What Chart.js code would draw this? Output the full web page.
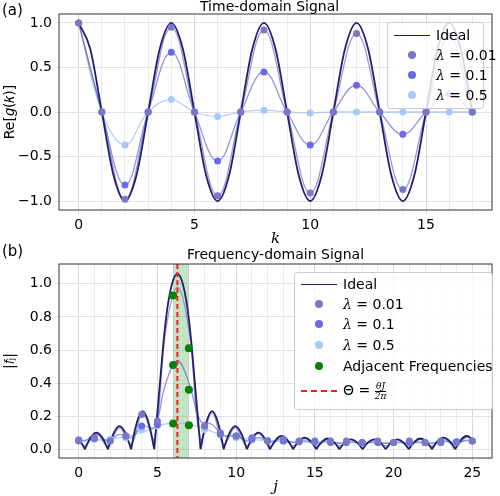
<!DOCTYPE html>
<html>
<head>
<meta charset="utf-8">
<script src="https://cdn.jsdelivr.net/npm/chart.js@4"></script>
<style>
  body { margin: 0; background: #fff; font-family: "DejaVu Sans", sans-serif; }
  #wrap { position: relative; width: 500px; height: 496px; }
  canvas { position: absolute; left: 0; }
  .lbl { position: absolute; font-size: 14px; color: #000; white-space: nowrap; }
  .legend { position: absolute; background: rgba(255,255,255,0.82); border: 1px solid #ccc; border-radius: 3px; font-size: 14px; }
  .row { position: absolute; left: 0; height: 18px; line-height: 18px; white-space: nowrap; }
  .sw { position: absolute; left: 6px; width: 36px; top: 9px; }
  .txt { position: absolute; left: 48px; top: 0; }
  .dot { position: absolute; left: 20px; top: 5px; width: 8px; height: 8px; border-radius: 50%; }
  i { font-family: "DejaVu Serif", serif; }
</style>
</head>
<body>
<div id="wrap">
  <canvas id="top" width="500" height="248" style="top:0"></canvas>
  <canvas id="bot" width="500" height="248" style="top:248px"></canvas>
  <div class="lbl" style="left:2px;top:1px;font-size:15px">(a)</div>
  <div class="lbl" style="left:200px;top:-2px">Time-domain Signal</div>
  <div class="lbl" style="left:2px;top:242px;font-size:15px">(b)</div>
  <div class="lbl" style="left:187px;top:246px">Frequency-domain Signal</div>

  <div class="legend" style="left:387px;top:22px;width:95px;height:85px">
    <div class="row" style="top:3px"><div class="sw" style="border-top:1.8px solid #1f1f70"></div><div class="txt">Ideal</div></div>
    <div class="row" style="top:23px"><div class="dot" style="background:#7878c4"></div><div class="txt"><i>λ</i> = 0.01</div></div>
    <div class="row" style="top:43px"><div class="dot" style="background:#6a6ae6"></div><div class="txt"><i>λ</i> = 0.1</div></div>
    <div class="row" style="top:63px"><div class="dot" style="background:#a8c8f8"></div><div class="txt"><i>λ</i> = 0.5</div></div>
  </div>

  <div class="legend" style="left:294px;top:272px;width:197px;height:136px">
    <div class="row" style="top:2px"><div class="sw" style="border-top:1.8px solid #1f1f70"></div><div class="txt">Ideal</div></div>
    <div class="row" style="top:22px"><div class="dot" style="background:#7878c4"></div><div class="txt"><i>λ</i> = 0.01</div></div>
    <div class="row" style="top:42px"><div class="dot" style="background:#6a6ae6"></div><div class="txt"><i>λ</i> = 0.1</div></div>
    <div class="row" style="top:63px"><div class="dot" style="background:#a8c8f8"></div><div class="txt"><i>λ</i> = 0.5</div></div>
    <div class="row" style="top:84px"><div class="dot" style="background:#0a800a"></div><div class="txt">Adjacent Frequencies</div></div>
    <div class="row" style="top:108px"><div class="sw" style="border-top:2px dashed #f02020"></div><div class="txt">Θ = <span style="display:inline-block;vertical-align:middle;font-size:9px;line-height:9px;text-align:center"><span style="border-bottom:1px solid #000;display:block"><i>θJ</i></span><span><i>2π</i></span></span></div></div>
  </div>
</div>
<script>
// ---- time domain data ----
const kVals = [0,1,2,3,4,5,6,7,8,9,10,11,12,13,14,15,16,17];
const idealK = [0,0.5,1,1.5,2,2.5,3,3.5,4,4.5,5,5.5,6,6.5,7,7.5,8,8.5,9,9.5,10,10.5,11,11.5,12,12.5,13,13.5,14,14.5,15,15.5,16,16.5,17];
const idealG = [1,0.707,0,-0.707,-1,-0.707,0,0.707,1,0.707,0,-0.707,-1,-0.707,0,0.707,1,0.707,0,-0.707,-1,-0.707,0,0.707,1,0.707,0,-0.707,-1,-0.707,0,0.707,1,0.707,0];
const g001 = [1,0,-0.98,0,0.95,0,-0.94,0,0.92,0,-0.91,0,0.88,0,-0.87,0,0.85,0];
const g01  = [1,0,-0.82,0,0.67,0,-0.55,0,0.45,0,-0.37,0,0.30,0,-0.25,0,0.20,0];
const g05  = [1,0,-0.37,0,0.14,0,-0.05,0,0.02,0,-0.01,0,0,0,0,0,0,0];

// ---- frequency domain data ----
const jVals = [0,1,2,3,4,5,6,7,8,9,10,11,12,13,14,15,16,17,18,19,20,21,22,23,24,25];
const f001 = [0.05,0.07,0.05,0.08,0.21,0.17,0.93,0.61,0.14,0.10,0.08,0.07,0.05,0.06,0.05,0.05,0.05,0.05,0.04,0.05,0.04,0.05,0.04,0.05,0.04,0.05];
const f01  = [0.055,0.065,0.05,0.08,0.14,0.15,0.51,0.36,0.14,0.09,0.08,0.06,0.05,0.05,0.045,0.045,0.04,0.04,0.04,0.04,0.04,0.04,0.04,0.04,0.045,0.05];
const f05  = [0.06,0.06,0.06,0.07,0.12,0.14,0.155,0.145,0.12,0.09,0.07,0.06,0.055,0.05,0.05,0.045,0.045,0.04,0.04,0.04,0.04,0.04,0.04,0.04,0.045,0.05];
const adjJ = [6,6,6,7,7,7];
const adjF = [0.93,0.51,0.155,0.61,0.36,0.145];
const thetaJ = 6.27;
const bandJ = [6, 7];

// ideal |f| curve, lobes separated by null so each zero is a cusp
const idealJ = [0,0.2,0.39,null,
  0.39,0.76,1.125,1.49,1.86,null, 1.86,2.23,2.595,2.96,3.33,null, 3.33,3.70,4.065,4.43,4.80,null,
  4.80,5.17,5.535,5.90,6.27,6.64,7.005,7.37,7.74,null,
  7.74,8.11,8.475,8.84,9.21,null, 9.21,9.58,9.945,10.31,10.68,null, 10.68,11.05,11.415,11.78,12.15,null,
  12.15,12.52,12.885,13.25,13.62,null, 13.62,13.99,14.355,14.72,15.09,null, 15.09,15.46,15.825,16.19,16.56,null,
  16.56,16.93,17.295,17.66,18.03,null, 18.03,18.40,18.765,19.13,19.50,null, 19.50,19.87,20.235,20.60,20.97,null,
  20.97,21.34,21.705,22.07,22.44,null, 22.44,22.81,23.175,23.54,23.91,null, 23.91,24.28,24.65,25];
const idealF = [0.06,0.035,0,null,
  0,0.071,0.10,0.071,0,null, 0,0.099,0.14,0.099,0,null, 0,0.163,0.23,0.163,0,null,
  0,0.41,0.78,0.99,1.06,0.99,0.78,0.41,0,null,
  0,0.163,0.23,0.163,0,null, 0,0.099,0.14,0.099,0,null, 0,0.071,0.10,0.071,0,null,
  0,0.057,0.08,0.057,0,null, 0,0.05,0.07,0.05,0,null, 0,0.046,0.065,0.046,0,null,
  0,0.043,0.06,0.043,0,null, 0,0.043,0.06,0.043,0,null, 0,0.043,0.06,0.043,0,null,
  0,0.046,0.065,0.046,0,null, 0,0.05,0.07,0.05,0,null, 0,0.057,0.08,0.058];

const curveJ = [0,0.39,1.125,1.86,2.595,3.33,4.065,4.80,5.535,6.27,7.005,7.74,8.475,9.21,9.945,10.68,11.415,12.15,12.885,13.62,14.355,15.09,15.825,16.56,17.295,18.03,18.765,19.50,20.235,20.97,21.705,22.44,23.175,23.91,24.65,25];
const c001 = [0.055,0.02,0.095,0.02,0.13,0.03,0.22,0.06,0.72,0.98,0.72,0.06,0.22,0.03,0.13,0.02,0.095,0.02,0.075,0.02,0.065,0.02,0.06,0.02,0.06,0.02,0.06,0.02,0.06,0.02,0.06,0.02,0.065,0.02,0.075,0.055];
const c01  = [0.055,0.05,0.09,0.05,0.09,0.07,0.14,0.13,0.40,0.535,0.40,0.17,0.15,0.08,0.085,0.05,0.07,0.045,0.06,0.04,0.05,0.035,0.05,0.035,0.045,0.035,0.045,0.035,0.045,0.035,0.045,0.035,0.05,0.035,0.055,0.05];
const smoothJ = [0,2,4,5,6.2,7.5,9,11,14,18,22,25];
const c05 = [0.055,0.06,0.10,0.14,0.16,0.14,0.09,0.06,0.045,0.04,0.04,0.05];

const cIdeal = '#1f1f70', c1 = '#7878c4', c2 = '#6a6ae6', c3 = '#a8c8f8';
const pts = (xs, ys) => xs.map((x, i) => ({ x: x, y: x === null ? null : ys[i] }));
const tickFont = { family: 'DejaVu Sans', size: 14 };
const gridColor = ctx => ctx.tick && ctx.tick.value % 5 === 0 ? '#d8d8d8' : '#ececec';

function lineDs(data, color, width, order, mono) {
  return { type: 'line', data: data, borderColor: color, borderWidth: width, pointRadius: 0, tension: 0.4,
    cubicInterpolationMode: mono ? 'monotone' : 'default', fill: false, order: order };
}
function dotDs(data, color, order) {
  return { type: 'scatter', data: data, backgroundColor: color, borderWidth: 0, pointRadius: 3.5, order: order };
}

const boxPlugin = {
  id: 'box',
  beforeDatasetsDraw(chart, args, opts) {
    const { ctx, chartArea: a, scales: { x } } = chart;
    if (opts.band) {
      ctx.save();
      ctx.fillStyle = 'rgba(60,160,60,0.3)';
      const x0 = x.getPixelForValue(opts.band[0]), x1 = x.getPixelForValue(opts.band[1]);
      ctx.fillRect(x0, a.top, x1 - x0, a.bottom - a.top);
      ctx.restore();
    }
  },
  afterDatasetsDraw(chart, args, opts) {
    const { ctx, chartArea: a, scales: { x } } = chart;
    ctx.save();
    if (opts.vline !== undefined) {
      const px = x.getPixelForValue(opts.vline);
      ctx.strokeStyle = '#f02020'; ctx.lineWidth = 2; ctx.setLineDash([5, 3]);
      ctx.beginPath(); ctx.moveTo(px, a.top); ctx.lineTo(px, a.bottom); ctx.stroke();
      ctx.setLineDash([]);
    }
    ctx.strokeStyle = '#333'; ctx.lineWidth = 1;
    ctx.strokeRect(a.left, a.top, a.right - a.left, a.bottom - a.top);
    ctx.restore();
  }
};

function axes(xmin, xmax, ymin, ymax, ystep, xtitle, ytitle, yfmt) {
  return {
    x: { type: 'linear', min: xmin, max: xmax,
      afterBuildTicks: s => { s.ticks = []; for (let v = 0; v <= xmax; v++) s.ticks.push({ value: v }); },
      ticks: { font: tickFont, color: '#000', autoSkip: false, maxRotation: 0, callback: v => v % 5 === 0 ? v : '' },
      grid: { color: gridColor, drawTicks: true, tickLength: 4 }, border: { display: false },
      title: { display: true, text: xtitle, font: { family: 'DejaVu Serif', size: 15, style: 'italic' }, color: '#000', padding: 0 },
      afterFit: s => { s.height = 38; } },
    y: { min: ymin, max: ymax,
      afterBuildTicks: s => { s.ticks = []; for (let v = Math.ceil(ymin / ystep) * ystep; v <= ymax + 1e-9; v += ystep) s.ticks.push({ value: Math.round(v * 100) / 100 }); },
      ticks: { font: tickFont, color: '#000', callback: yfmt },
      grid: { color: '#e2e2e2', tickLength: 4 }, border: { display: false },
      title: { display: true, text: ytitle, font: { family: 'DejaVu Sans', size: 14 }, color: '#000', padding: 2 },
      afterFit: s => { s.width = 59; } }
  };
}

new Chart(document.getElementById('top'), {
  data: { datasets: [
    lineDs(pts(idealK, idealG), cIdeal, 1.8, 1, true),
    lineDs(pts(kVals, g001), 'rgba(110,110,190,0.7)', 1.3, 2),
    lineDs(pts(kVals, g01), 'rgba(100,100,225,0.7)', 1.3, 3),
    lineDs(pts(kVals, g05), 'rgba(160,195,245,0.8)', 1.3, 4),
    dotDs(pts(kVals, g001), c1, 0),
    dotDs(pts(kVals, g01), c2, 0),
    dotDs(pts(kVals, g05), c3, 0)
  ] },
  options: {
    responsive: false, animation: false,
    layout: { padding: { top: 14, right: 8, left: 0, bottom: 0 } },
    plugins: { legend: { display: false }, tooltip: { enabled: false }, box: {} },
    scales: axes(-0.85, 17.85, -1.1, 1.1, 0.5, '𝑘', 'Re[𝑔(𝑘)]', v => v.toFixed(1).replace('-', '−'))
  },
  plugins: [boxPlugin]
});

new Chart(document.getElementById('bot'), {
  data: { datasets: [
    { ...lineDs(pts(idealJ, idealF), cIdeal, 1.8, 1), spanGaps: false },
    lineDs(pts(curveJ, c001), 'rgba(110,110,190,0.7)', 1.3, 2),
    lineDs(pts(curveJ, c01), 'rgba(100,100,225,0.7)', 1.3, 3),
    lineDs(pts(smoothJ, c05), 'rgba(160,195,245,0.8)', 1.3, 4),
    dotDs(pts(jVals, f001), c1, 0),
    dotDs(pts(jVals, f01), c2, 0),
    dotDs(pts(jVals, f05), c3, 0),
    { ...dotDs(pts(adjJ, adjF), '#0a800a', -1), pointRadius: 4 }
  ] },
  options: {
    responsive: false, animation: false,
    layout: { padding: { top: 16, right: 8, left: 0, bottom: 0 } },
    plugins: { legend: { display: false }, tooltip: { enabled: false }, box: { band: bandJ, vline: thetaJ } },
    scales: axes(-1.25, 26.25, -0.053, 1.12, 0.2, '𝑗', '|𝑓ⱼ|', v => v.toFixed(1))
  },
  plugins: [boxPlugin]
});
</script>
</body>
</html>
